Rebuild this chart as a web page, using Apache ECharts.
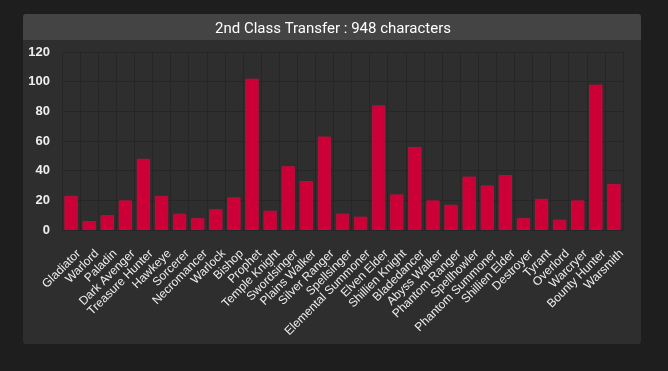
<!DOCTYPE html>
<html>
<head>
<meta charset="utf-8">
<script src="https://cdn.jsdelivr.net/npm/echarts@6/dist/echarts.min.js"></script>
<style>
html,body{margin:0;padding:0;background:#1e1e1e;}
#c{width:668px;height:371px;}
</style>
</head>
<body>
<div id="c"></div>
<script>
const titleText = '2nd Class Transfer : 948 characters';
const categories = ['Gladiator','Warlord','Paladin','Dark Avenger','Treasure Hunter','Hawkeye','Sorcerer','Necromancer','Warlock','Bishop','Prophet','Temple Knight','Swordsinger','Plains Walker','Silver Ranger','Spellsinger','Elemental Summoner','Elven Elder','Shillien Knight','Bladedancer','Abyss Walker','Phantom Ranger','Spellhowler','Phantom Summoner','Shillien Elder','Destroyer','Tyrant','Overlord','Warcryer','Bounty Hunter','Warsmith'];
const values = [23,6,10,20,48,23,11,8,14,22,102,13,43,33,63,11,9,84,24,56,20,17,36,30,37,8,21,7,20,98,31];
const yTicks = [0,20,40,60,80,100,120];

const chart = echarts.init(document.getElementById('c'), null, {renderer:'canvas'});
chart.setOption({
  backgroundColor:'#1e1e1e',
  animation:false,
  graphic:[
    {type:'rect', shape:{x:23,y:14,width:618,height:330,r:3}, style:{fill:'#2e2e2e'}, z:-10},
    {type:'rect', shape:{x:23,y:14,width:618,height:26,r:[3,3,0,0]}, style:{fill:'#444444'}, z:-9}
  ],
  title:{
    text:titleText, left:210, top:17,
    textStyle:{color:'#ffffff', fontFamily:'Roboto', fontSize:15, fontWeight:'normal'}
  },
  grid:{left:62, right:45, top:52, bottom:141},
  xAxis:{
    type:'category', data:categories,
    axisLine:{show:true, lineStyle:{color:'#262626'}},
    axisTick:{show:false},
    splitLine:{show:true, interval:0, lineStyle:{color:'#262626', width:1}},
    axisLabel:{interval:0, rotate:45, color:'#eeeeee', fontFamily:'Liberation Sans, Arial', fontSize:12, margin:14, verticalAlign:'top', lineHeight:22}
  },
  yAxis:{
    type:'value', min:yTicks[0], max:yTicks[yTicks.length-1], interval:20,
    axisLine:{show:false}, axisTick:{show:false},
    splitLine:{lineStyle:{color:'#262626', width:1}},
    axisLabel:{color:'#eeeeee', fontFamily:'Liberation Sans, Arial', fontSize:13, fontWeight:'bold', margin:12}
  },
  series:[{
    type:'bar', data:values, barCategoryGap:'26%',
    itemStyle:{color:'#cc0036', borderColor:'#b8103c', borderWidth:1}
  }]
});
</script>
</body>
</html>
